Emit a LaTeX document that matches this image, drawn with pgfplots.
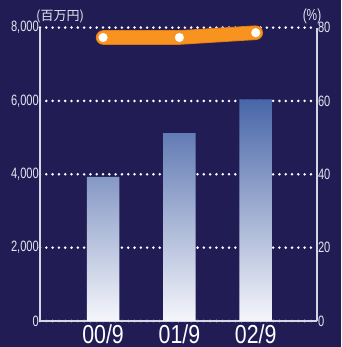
\documentclass[border=0pt]{standalone}
\usepackage{pgfplots}
\pgfplotsset{compat=1.18}
\usepackage{pgfplotstable}
\usepackage{fontspec}
\setmainfont{Liberation Sans}
\newfontfamily\tickfont[FakeStretch=0.74]{Liberation Sans}
\newfontfamily\catfont[FakeStretch=0.82]{Liberation Sans}
\newfontfamily\jpfont{Noto Sans CJK JP}

\definecolor{bg}{HTML}{221C55}
\definecolor{axcol}{HTML}{D6D6E4}
\definecolor{labcol}{HTML}{E4E4EE}
\definecolor{bartop}{HTML}{4866A8}
\definecolor{barbot}{HTML}{F6F6FB}
\definecolor{lineorange}{HTML}{F7931E}
\definecolor{lineedge}{HTML}{DB7A12}

% sales (million yen) per fiscal period, and ratio (%)
\pgfplotstableread{
x sales
0 3927
1 5122
2 6046
}\salesdata
\pgfplotstableread{
x ratio
0 77.3
1 77.3
2 78.6
}\ratiodata

\pgfplotsset{
  common/.style={
    scale only axis, width=276.8pt, height=293.4pt,
    at={(0,0)}, anchor=south west,
    xmin=-0.826, xmax=2.8,
    axis line style={draw=axcol, line width=1.4pt, -},
    major tick length=0pt,
  },
}

\begin{document}
\begin{tikzpicture}[x=1pt,y=1pt]
\useasboundingbox (-40,-26) rectangle (301,321);
\fill[bg] (-40,-26) rectangle (301,321);

\begin{axis}[
  common,
  ymin=0, ymax=8000,
  axis x line*=bottom, axis y line*=left,
  xtick={0,1,2}, xticklabels={00/9,01/9,02/9},
  ytick={0,2000,4000,6000,8000},
  yticklabels={0,{2,000},{4,000},{6,000},{8,000}},
  ymajorgrids,
  grid style={white, line width=2.8pt, line cap=round, dash pattern=on 0pt off 6.3pt},
  y tick label style={font=\tickfont\fontsize{15}{15}\selectfont, text=labcol, inner sep=1pt},
  x tick label style={font=\catfont\fontsize{26}{26}\selectfont, text=white, inner sep=0pt, yshift=-3pt},
]
\addplot[ybar, bar width=32.5pt, draw=none, top color=bartop, bottom color=barbot]
  table[x=x, y=sales] {\salesdata};
\end{axis}

\begin{axis}[
  common,
  ymin=0, ymax=80,
  axis y line*=right, axis x line=none,
  ytick={0,20,40,60,80},
  yticklabels={0,20,40,60,80},
  y tick label style={font=\tickfont\fontsize{15}{15}\selectfont, text=labcol, inner sep=1pt},
  clip=false,
]
\addplot[draw=lineedge, line width=14.6pt, line cap=round, line join=round]
  table[x=x, y=ratio] {\ratiodata};
\addplot[draw=lineorange, line width=13pt, line cap=round, line join=round]
  table[x=x, y=ratio] {\ratiodata};
\addplot[only marks, mark=*, mark size=4.4pt, white, line width=0.2pt]
  table[x=x, y=ratio] {\ratiodata};
\end{axis}

\node[text=labcol, font=\jpfont\fontsize{13}{13}\selectfont] at (20,305) {(百万円)};
\node[text=labcol, font=\tickfont\fontsize{16}{16}\selectfont] at (272,304.5) {(\%)};
\end{tikzpicture}
\end{document}
